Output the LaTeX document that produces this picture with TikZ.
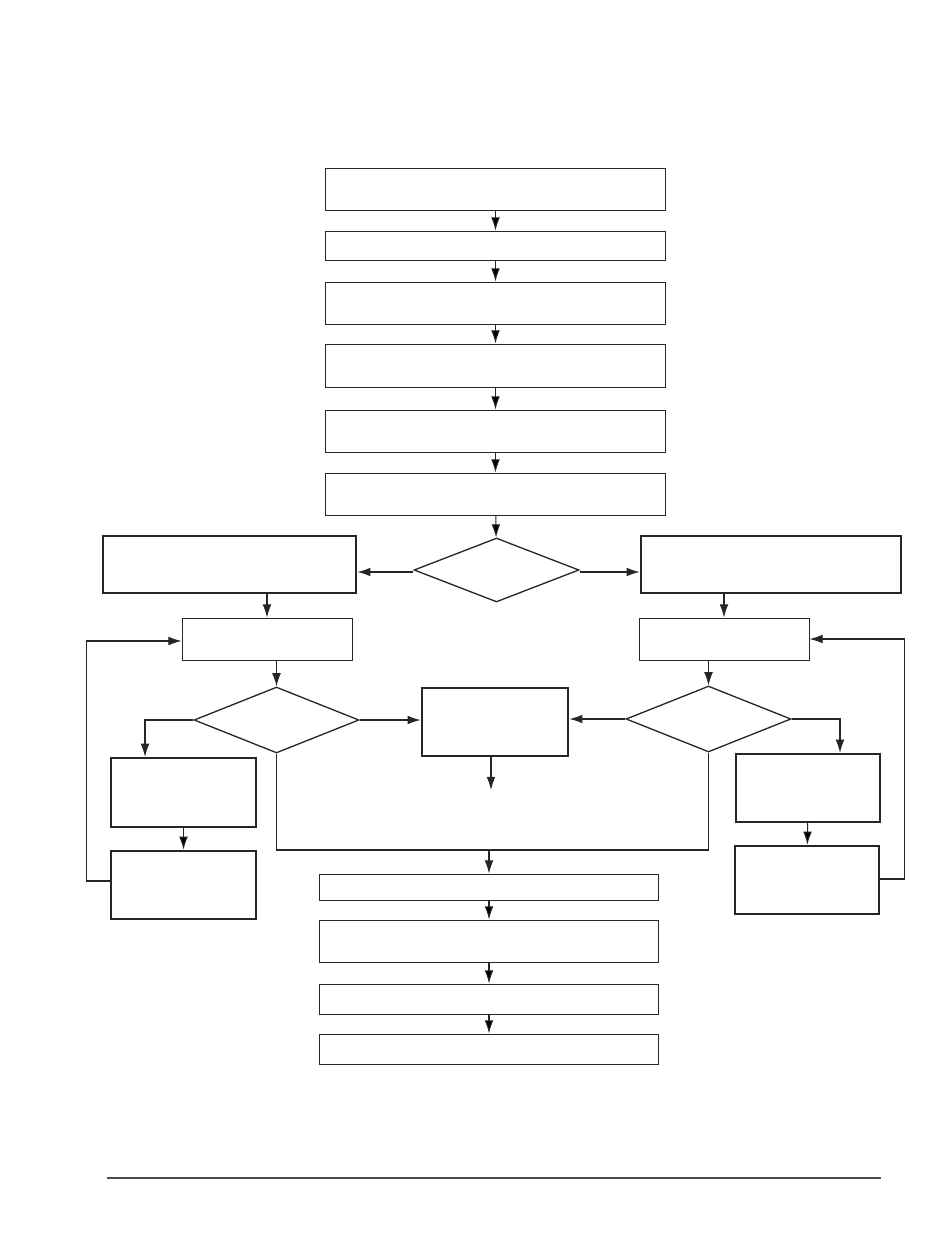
\documentclass[tikz,border=0pt]{standalone}
\usepackage{xcolor}
\usepackage{tikz}
\usetikzlibrary{shapes.geometric, arrows.meta, positioning}
\definecolor{ink}{HTML}{262626}

\begin{document}
\begin{tikzpicture}[x=0.02cm, y=-0.02cm, >={Latex[length=7.5pt,width=5pt]},
    box/.style={draw=ink, line width=0.55pt, rectangle, inner sep=0pt},
    thick box/.style={box, line width=1.4pt},
    decision/.style={draw=ink, line width=0.75pt, diamond, inner sep=0pt,
                     minimum width=3.3cm, minimum height=1.28cm},
    flow/.style={draw=ink, line width=0.6pt, ->}]
        \useasboundingbox (0,0) rectangle (950,1246);
        % main column
        \node[box, minimum width=6.82cm, minimum height=0.84cm] (s_1) at (495.5,189)   {};
        \node[box, minimum width=6.82cm, minimum height=0.58cm] (s_2) at (495.5,245.5) {};
        \node[box, minimum width=6.82cm, minimum height=0.84cm] (s_3) at (495.5,303)   {};
        \node[box, minimum width=6.82cm, minimum height=0.86cm] (s_4) at (495.5,365.5) {};
        \node[box, minimum width=6.82cm, minimum height=0.84cm] (s_5) at (495.5,431)   {};
        \node[box, minimum width=6.82cm, minimum height=0.84cm] (s_6) at (495.5,494)   {};
        \node[decision] (d_1) at (496.5,570) {};
        % branches
        \node[thick box, minimum width=5.06cm, minimum height=1.14cm] (l_1) at (229.5,564.5) {};
        \node[thick box, minimum width=5.2cm,  minimum height=1.14cm] (r_1) at (771,564.5)   {};
        \node[box, minimum width=3.4cm, minimum height=0.84cm] (l_2) at (267,639) {};
        \node[box, minimum width=3.4cm, minimum height=0.84cm] (r_2) at (724,639) {};
        \node[decision, minimum height=1.32cm] (d_2) at (276.5,720) {};
        \node[decision, minimum height=1.32cm] (d_3) at (708.5,719) {};
        \node[thick box, minimum width=2.92cm, minimum height=1.36cm] (m)   at (495,722)   {};
        \node[thick box, minimum width=2.9cm,  minimum height=1.38cm] (l_3) at (183.5,792.5) {};
        \node[thick box, minimum width=2.9cm,  minimum height=1.36cm] (l_4) at (183.5,885) {};
        \node[thick box, minimum width=2.88cm, minimum height=1.36cm] (r_3) at (808,788)   {};
        \node[thick box, minimum width=2.88cm, minimum height=1.36cm] (r_4) at (807,880)   {};
        % end column
        \node[box, minimum width=6.8cm, minimum height=0.52cm] (e_1) at (489,887)  {};
        \node[box, minimum width=6.8cm, minimum height=0.84cm] (e_2) at (489,941)  {};
        \node[box, minimum width=6.8cm, minimum height=0.6cm]  (e_3) at (489,999)  {};
        \node[box, minimum width=6.8cm, minimum height=0.6cm]  (e_4) at (489,1049) {};
        \coordinate (m_out) at (491,790);
        \coordinate (join)  at (489,850);

        \path[flow]
          (s_1) edge (s_2)
          (s_2) edge (s_3)
          (s_3) edge (s_4)
          (s_4) edge (s_5)
          (s_5) edge (s_6)
          (s_6) edge (d_1)
          (l_3) edge (l_4)
          (r_3) edge (r_4)
          (e_1) edge (e_2)
          (e_2) edge (e_3)
          (e_3) edge (e_4);
        \draw[flow, line width=0.9pt] ([yshift=-0.04cm]d_1.west) -- ([yshift=-0.04cm]d_1.west -| l_1.east);
        \draw[flow, line width=0.9pt] ([yshift=-0.04cm]d_1.east) -- ([yshift=-0.04cm]d_1.east -| r_1.west);
        \draw[flow] (l_1.south -| l_2) -- (l_2.north);
        \draw[flow] (r_1.south -| r_2) -- (r_2.north);
        \draw[flow] (l_2.south -| d_2) -- (d_2.north);
        \draw[flow] (r_2.south -| d_3) -- (d_3.north);
        \draw[flow, line width=0.9pt] (d_2.east) -- (d_2.east -| m.west);
        \draw[flow, line width=0.9pt] (d_3.west) -- (d_3.west -| m.east);
        \draw[flow] (m.south -| m_out) -- (m_out);
        \draw[flow] (d_2.west) -| ([xshift=-0.77cm]l_3.north);
        \draw[flow] (d_3.east) -| ([xshift=0.64cm]r_3.north);
        % loops back
        \draw[flow] ([yshift=0.08cm]l_4.west) -- ++(-23,0) |- ([yshift=-0.04cm]l_2.west);
        \draw[flow] ([yshift=0.02cm]r_4.east) -- ++(24,0) |- (r_2.east);
        % merge
        \draw[ink, line width=1pt] (d_2.south) |- (join) -| (d_3.south);
        \draw[flow] (join) -- (e_1.north);
        % page rule
        \draw[gray!60!black, line width=0.9pt] (107,1178) -- (881,1178);
      \end{tikzpicture}
\end{document}
